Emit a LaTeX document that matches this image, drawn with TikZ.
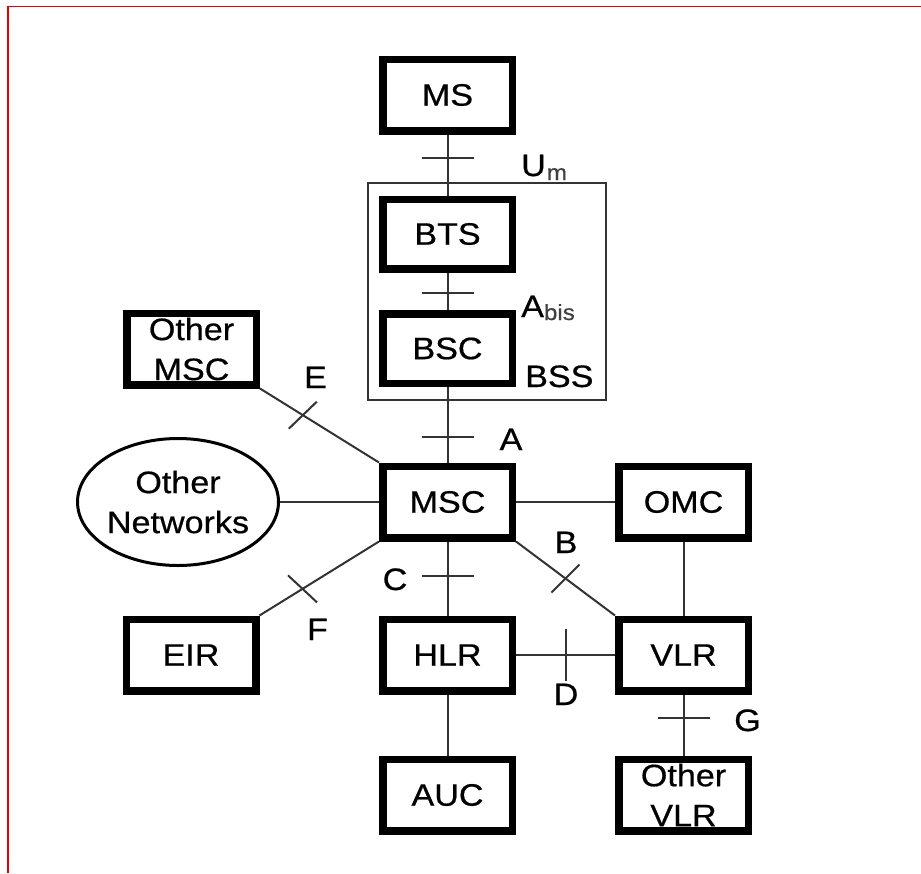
\documentclass[tikz,border=0pt]{standalone}
\usepackage{fontspec}
\setmainfont{Liberation Sans}[FakeStretch=1.1,FakeBold=0.6]
\usetikzlibrary{shapes.geometric,calc}
\begin{document}
\begin{tikzpicture}[x=1pt,y=-1pt,
  box/.style={draw, line width=7.5pt, minimum width=129.5pt, minimum height=71.5pt,
    inner sep=0pt, align=center, font=\fontsize{31}{40}\selectfont},
  shortbox/.style={box, minimum height=69.5pt},
  conn/.style={line width=2pt, black!80},
  tick/.style={line width=2pt, black!80},
  lbl/.style={inner sep=0pt, font=\fontsize{31}{31}\selectfont},
  subs/.style={font=\fontsize{22}{22}\selectfont}]
\useasboundingbox (0,0) rectangle (921,873);
\fill[white] (0,0) rectangle (921,873);
\draw[red!90!black, line width=1.5pt] (8,873) -- (8,6.5) -- (921,6.5);

% BSS frame
\node[draw, line width=1.5pt, black!80, minimum width=238pt, minimum height=217pt, inner sep=0pt] (bss) at (487,291.5) {};

% boxes
\node[box] (MS) at (447.5,95) {MS};
\node[shortbox] (BTS) at (447.5,234) {BTS};
\node[shortbox] (BSC) at (447.5,348.5) {BSC};
\node[box] (MSC) at (447.5,502) {MSC};
\node[box] (OMSC) at (191.5,349) {Other\\MSC};
\node[box] (EIR) at (191,655) {EIR};
\node[box] (HLR) at (447.5,655) {HLR};
\node[box] (AUC) at (447.5,795) {AUC};
\node[box] (OMC) at (683.5,502) {OMC};
\node[box] (VLR) at (683.5,655) {VLR};
\node[box] (OVLR) at (683.5,795) {Other\\VLR};
\node[draw, ellipse, line width=3pt, minimum width=197pt, minimum height=127pt, inner sep=0pt,
  align=center, font=\fontsize{31}{40}\selectfont] (ON) at (178,502) {Other\\Networks};

% connectors
\draw[conn] (MS.south) -- (BTS.north);
\draw[conn] (BTS.south) -- (BSC.north);
\draw[conn] (BSC.south) -- (MSC.north);
\draw[conn] (MSC.south) -- (HLR.north);
\draw[conn] (HLR.south) -- (AUC.north);
\draw[conn] (MSC.east) -- (OMC.west);
\draw[conn] (OMC.south) -- (VLR.north);
\draw[conn] (HLR.east) -- (VLR.west);
\draw[conn] (VLR.south) -- (OVLR.north);
\draw[conn] (ON.east) -- (MSC.west);
\draw[conn] (OMSC.south east) -- (MSC.north west);
\draw[conn] (MSC.south west) -- (EIR.north east);
\draw[conn] (MSC.south east) -- (VLR.north west);

% interface ticks
\coordinate (tUm) at ($(MS.south)!0.38!(BTS.north)$);
\coordinate (tAb) at ($(BTS.south)!0.55!(BSC.north)$);
\coordinate (tA) at ($(BSC.south)!0.66!(MSC.north)$);
\coordinate (tC) at ($(MSC.south)!0.47!(HLR.north)$);
\coordinate (tD) at ($(HLR.east)!0.5!(VLR.west)$);
\coordinate (tG) at ($(VLR.south)!0.39!(OVLR.north)$);
\coordinate (tE) at ($(OMSC.south east)!0.36!(MSC.north west)$);
\coordinate (tF) at ($(MSC.south west)!0.64!(EIR.north east)$);
\coordinate (tB) at ($(MSC.south east)!0.5!(VLR.north west)$);
\foreach \t in {tUm,tAb,tA,tC,tG}
  \draw[tick] ($(\t)+(-26,0)$) -- ($(\t)+(26,0)$);
\draw[tick] ($(tD)+(0,-26)$) -- ($(tD)+(0,26)$);
\draw[tick] ($(tE)+(-14,13.5)$) -- ($(tE)+(14,-13.5)$);
\draw[tick] ($(tF)+(-14.5,-13.5)$) -- ($(tF)+(14.5,13.5)$);
\draw[tick] ($(tB)+(-14,14)$) -- ($(tB)+(14,-14)$);

% labels
\node[lbl, anchor=base west] (lUm) at (521,176) {U\kern1pt\raisebox{-4pt}{\color{black!75}\fontsize{22}{22}\selectfont m}};
\node[lbl, anchor=base west] (lAb) at (521,317) {A\raisebox{-3pt}{\color{black!75}\fontsize{22}{22}\selectfont bis}};
\node[lbl, anchor=base west] (lBSS) at (525,387) {BSS};
\node[lbl, anchor=base] (lE) at (315.5,388) {E};
\node[lbl, anchor=base] (lA) at (511,450) {A};
\node[lbl, anchor=base] (lB) at (566,553) {B};
\node[lbl, anchor=base] (lC) at (395,590) {C};
\node[lbl, anchor=base] (lF) at (317.5,640) {F};
\node[lbl, anchor=base] (lD) at (566,705) {D};
\node[lbl, anchor=base] (lG) at (747.5,731) {G};
\end{tikzpicture}
\end{document}
